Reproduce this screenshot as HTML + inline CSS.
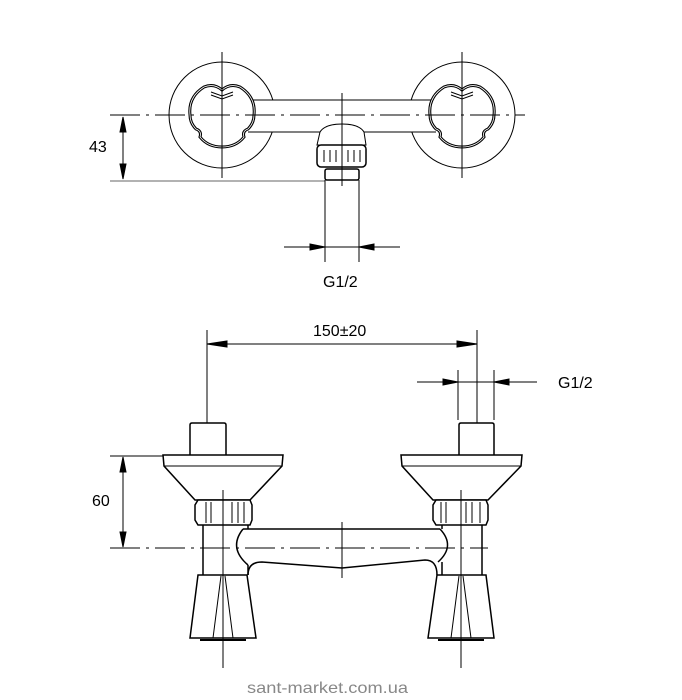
<!DOCTYPE html>
<html><head><meta charset="utf-8"><style>
html,body{margin:0;padding:0;background:#fff;}
svg{display:block;}
text{font-family:"Liberation Sans",Arial,sans-serif;}
</style></head><body>
<svg width="682" height="700" viewBox="0 0 682 700" xmlns="http://www.w3.org/2000/svg">
<defs>
<path id="lobe" d="M-18,-28 Q-8,-32 0,-25 Q8,-32 18,-28 Q34,-18 32,0 Q32,8 26,14 Q20,16 22,22 Q14,32 0,32 Q-14,32 -22,22 Q-20,16 -26,14 Q-32,8 -32,0 Q-34,-18 -18,-28 z"/>
</defs>
<g stroke="#000" stroke-width="1" fill="none">
<circle cx="222" cy="115" r="53" fill="#fff"/>
<circle cx="462" cy="115" r="53" fill="#fff"/>
<rect x="250" y="100" width="185" height="32" fill="#fff" stroke="none"/>
<line x1="252" y1="100" x2="432" y2="100"/>
<line x1="248" y1="132" x2="320" y2="132"/>
<line x1="364" y1="132" x2="436" y2="132"/>
<g transform="translate(222,115)"><use href="#lobe" fill="#fff" stroke-width="3"/><use href="#lobe" stroke="#fff" stroke-width="0.8"/><path d="M-11,-23 L0,-19 L11,-23 M-11,-20 L0,-16 L11,-20"/></g>
<g transform="translate(462,115)"><use href="#lobe" fill="#fff" stroke-width="3"/><use href="#lobe" stroke="#fff" stroke-width="0.8"/><path d="M-11,-23 L0,-19 L11,-23 M-11,-20 L0,-16 L11,-20"/></g>
<path d="M320,132 Q325,124 342,124 Q359,124 364,132 L366,145 L317,145 z" fill="#fff"/>
<rect x="317" y="145" width="49" height="22" rx="4" fill="#fff" stroke-width="1.5"/>
<g><line x1="324" y1="150" x2="324" y2="162"/><line x1="330" y1="150" x2="330" y2="162"/><line x1="336" y1="150" x2="336" y2="162"/><line x1="348" y1="150" x2="348" y2="162"/><line x1="354" y1="150" x2="354" y2="162"/><line x1="360" y1="150" x2="360" y2="162"/></g>
<rect x="325" y="169" width="34" height="11" rx="2" fill="#fff" stroke-width="1.5"/>
<line x1="110" y1="115" x2="525" y2="115" stroke-dasharray="30,6,3,6"/>
<line x1="222" y1="52" x2="222" y2="178"/>
<line x1="462" y1="52" x2="462" y2="178"/>
<line x1="342" y1="93" x2="342" y2="186"/>
<line x1="110" y1="181" x2="325" y2="181" stroke="#666"/>
<line x1="123" y1="118" x2="123" y2="178"/>
<path d="M123,117 l-3,15 h6 z M123,179 l-3,-15 h6 z" fill="#000"/>
<line x1="325" y1="180" x2="325" y2="262"/>
<line x1="359" y1="180" x2="359" y2="262"/>
<line x1="284" y1="247" x2="400" y2="247"/>
<path d="M325,247 l-15,-3 v6 z M359,247 l15,-3 v6 z" fill="#000"/>

<line x1="207" y1="330" x2="207" y2="465"/>
<line x1="477" y1="330" x2="477" y2="465"/>
<line x1="207" y1="344" x2="477" y2="344"/>
<path d="M207,344 l20,-3 v6 z M477,344 l-20,-3 v6 z" fill="#000"/>
<line x1="458" y1="370" x2="458" y2="420"/>
<line x1="494" y1="370" x2="494" y2="420"/>
<line x1="417" y1="382" x2="537" y2="382"/>
<path d="M458,382 l-15,-3 v6 z M494,382 l15,-3 v6 z" fill="#000"/>
<path d="M190,455 V425 q0,-2 2,-2 H224 q2,0 2,2 V455" fill="#fff" stroke-width="1.5"/>
<path d="M459,455 V425 q0,-2 2,-2 H492 q2,0 2,2 V455" fill="#fff" stroke-width="1.5"/>
<path d="M163,455 H283 L282,466 L250,500 H195 L164,466 z" fill="#fff" stroke-width="1.5"/>
<line x1="164" y1="466" x2="282" y2="466"/>
<path d="M401,455 H522 L521,466 L488,500 H433 L402,466 z" fill="#fff" stroke-width="1.5"/>
<line x1="402" y1="466" x2="521" y2="466"/>
<path d="M203,525 V575 M248,525 V529 M248,565 V575" stroke-width="1.5"/>
<path d="M482,525 V575 M442,525 V529 M442,562 V575" stroke-width="1.5"/>
<path d="M243,529 Q228,548 248,565" stroke-width="1.5"/>
<path d="M243,529 H440" stroke-width="1.5"/>
<path d="M440,529 Q456,546 438,562" stroke-width="1.5"/>
<path d="M248,575 Q248,562 262,562 L342,568 L425,560 Q437,560 437,575" stroke-width="1.5"/>
<path d="M198,500 H250 L252,505 V520 L250,525 H198 L195,520 V505 z" fill="#fff" stroke-width="1.5"/>
<g><line x1="206" y1="502" x2="206" y2="523"/><line x1="211" y1="502" x2="211" y2="523"/><line x1="232" y1="502" x2="232" y2="523"/><line x1="238" y1="502" x2="238" y2="523"/><line x1="244" y1="502" x2="244" y2="523"/></g>
<path d="M436,500 H486 L488,505 V520 L486,525 H436 L433,520 V505 z" fill="#fff" stroke-width="1.5"/>
<g><line x1="441" y1="502" x2="441" y2="523"/><line x1="446" y1="502" x2="446" y2="523"/><line x1="466" y1="502" x2="466" y2="523"/><line x1="472" y1="502" x2="472" y2="523"/><line x1="480" y1="502" x2="480" y2="523"/></g>
<path d="M198,575 H247 L256,638 H190 z" fill="#fff" stroke-width="1.5"/>
<path d="M221,576 L213,638 M225,576 L233,638"/>
<line x1="200" y1="640" x2="246" y2="640" stroke-width="2"/>
<path d="M437,575 H486 L494,638 H428 z" fill="#fff" stroke-width="1.5"/>
<path d="M459,576 L451,638 M463,576 L471,638"/>
<line x1="438" y1="640" x2="484" y2="640" stroke-width="2"/>
<line x1="110" y1="548" x2="488" y2="548" stroke-dasharray="30,6,3,6"/>
<line x1="223" y1="490" x2="223" y2="668"/>
<line x1="461" y1="490" x2="461" y2="668"/>
<line x1="342" y1="522" x2="342" y2="578"/>
<line x1="110" y1="456" x2="163" y2="456"/>
<line x1="123" y1="458" x2="123" y2="546"/>
<path d="M123,457 l-3,15 h6 z M123,547 l-3,-15 h6 z" fill="#000"/>
</g>
<g font-size="16" fill="#000">
<text x="89" y="152">43</text>
<text x="323" y="287">G1/2</text>
<text x="313" y="336">150±20</text>
<text x="558" y="388">G1/2</text>
<text x="92" y="506">60</text>
</g>
<text x="247" y="693" font-size="16" fill="#888" textLength="161" lengthAdjust="spacingAndGlyphs">sant-market.com.ua</text>
</svg>
</body></html>
